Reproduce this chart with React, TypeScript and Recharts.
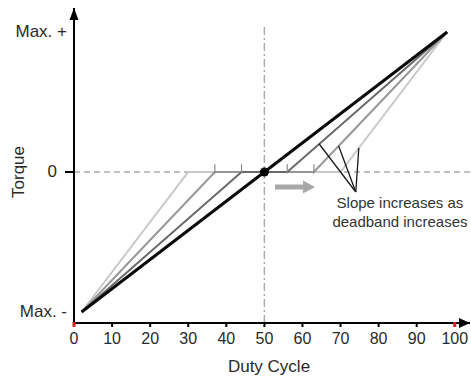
import { LineChart, Line, XAxis, YAxis, ReferenceLine, ReferenceDot } from 'recharts'

const FONT = '"Liberation Sans", Arial, Helvetica, sans-serif'

const X_MIN = 0
const X_MAX = 104
const Y_MIN = -1.0786
const Y_MAX = 1.1714

const xTicks = [0, 10, 20, 30, 40, 50, 60, 70, 80, 90, 100]
const yTicks = [-1, 0, 1]
const yTickLabels = { '-1': 'Max. -', '0': '0', '1': 'Max. +' }

// torque vs duty cycle, no deadband and three deadband widths
const noDeadband = [
  { x: 2, y: -1 },
  { x: 98, y: 1 },
]
const smallDeadband = [
  { x: 2, y: -1 },
  { x: 44, y: 0 },
  { x: 56, y: 0 },
  { x: 98, y: 1 },
]
const mediumDeadband = [
  { x: 2, y: -1 },
  { x: 37, y: 0 },
  { x: 63, y: 0 },
  { x: 98, y: 1 },
]
const largeDeadband = [
  { x: 2, y: -1 },
  { x: 30, y: 0 },
  { x: 70, y: 0 },
  { x: 98, y: 1 },
]

// little marks where the deadbands start / stop
const bandMarks = [37, 44, 56, 63]

// leader lines for the note: one apex, three targets on the slopes
const noteApex = { x: 74, y: -0.143 }
const noteTargets = [
  { x: 64.4, y: 0.2 },
  { x: 69.5, y: 0.186 },
  { x: 74.8, y: 0.171 },
]
const noteAnchor = { x: 85.6, y: -0.22 }
const noteLines = ['Slope increases as', 'deadband increases']

const shiftArrow = { from: 52.8, to: 63.3, y: -0.107 }

const YTick = (props) => {
  const { x, y, payload } = props
  const isZero = payload.value === 0
  return (
    <g>
      {isZero && <line x1={x - 9} x2={x} y1={y} y2={y} stroke="#000" strokeWidth={2} />}
      <text
        x={isZero ? x - 17 : x - 7}
        y={y}
        textAnchor="end"
        dominantBaseline="central"
        fontFamily={FONT}
        fontSize={17}
        fill="#2a2a2a"
      >
        {yTickLabels[String(payload.value)]}
      </text>
    </g>
  )
}

const ArrowRight = ({ cx, cy }) => (
  <polygon points={`${cx},${cy} ${cx - 11},${cy - 5} ${cx - 11},${cy + 5}`} fill="#000" />
)
const ArrowUp = ({ cx, cy }) => (
  <polygon points={`${cx},${cy} ${cx - 4.5},${cy + 12} ${cx + 4.5},${cy + 12}`} fill="#000" />
)
const RedMark = ({ cx, cy }) => <rect x={cx - 1.5} y={cy - 1} width={3} height={5} fill="#e02020" />
const Dot = ({ cx, cy }) => <circle cx={cx} cy={cy} r={4.5} fill="#000" />

const GrayArrow = ({ cx, cy }) => (
  <polygon
    points={`${cx},${cy - 2.5} ${cx + 28},${cy - 2.5} ${cx + 28},${cy - 6.5} ${cx + 40},${cy} ${cx + 28},${cy + 6.5} ${cx + 28},${cy + 2.5} ${cx},${cy + 2.5}`}
    fill="#a8a8a8"
  />
)

const NoteText = ({ cx, cy }) => (
  <text x={cx} y={cy} textAnchor="middle" fontFamily={FONT} fontSize={15} fill="#333">
    {noteLines.map((t, i) => (
      <tspan key={t} x={cx} dy={i === 0 ? 5 : 19}>
        {t}
      </tspan>
    ))}
  </text>
)

const App = () => {
  return (
    <div style={{ position: 'absolute', left: 0, top: 0, background: '#fff' }}>
      <LineChart width={471} height={377} margin={{ top: 8, right: 1, bottom: 0, left: 0 }}>
        <XAxis
          type="number"
          dataKey="x"
          domain={[X_MIN, X_MAX]}
          ticks={xTicks}
          allowDataOverflow
          height={54}
          axisLine={{ stroke: '#000', strokeWidth: 2 }}
          tickLine={{ stroke: '#000', strokeWidth: 2 }}
          tickSize={4}
          tickMargin={6}
          tick={{ fontFamily: FONT, fontSize: 16, fill: '#2a2a2a' }}
          label={{
            content: () => (
              <text x={269} y={366} textAnchor="middle" dominantBaseline="central" fontFamily={FONT} fontSize={17} fill="#2a2a2a">
                Duty Cycle
              </text>
            ),
          }}
        />
        <YAxis
          type="number"
          dataKey="y"
          domain={[Y_MIN, Y_MAX]}
          ticks={yTicks}
          allowDataOverflow
          width={74}
          axisLine={{ stroke: '#000', strokeWidth: 2 }}
          tickLine={false}
          tickSize={0}
          tickMargin={0}
          tick={<YTick />}
          label={{
            content: () => (
              <text
                x={18}
                y={172}
                transform="rotate(-90, 18, 172)"
                textAnchor="middle"
                dominantBaseline="central"
                fontFamily={FONT}
                fontSize={17}
                fill="#2a2a2a"
              >
                Torque
              </text>
            ),
          }}
        />

        <ReferenceLine
          segment={[{ x: X_MIN, y: 0 }, { x: X_MAX, y: 0 }]}
          stroke="#aaaaaa"
          strokeWidth={1.5}
          strokeDasharray="6 4"
          ifOverflow="visible"
        />
        <ReferenceLine
          segment={[{ x: 50, y: 1.036 }, { x: 50, y: Y_MIN }]}
          stroke="#aaaaaa"
          strokeWidth={1.5}
          strokeDasharray="8 3 2 3"
          ifOverflow="visible"
        />

        <Line data={largeDeadband} dataKey="y" type="linear" stroke="#c8c8c8" strokeWidth={2} dot={false} activeDot={false} isAnimationActive={false} />
        <Line data={mediumDeadband} dataKey="y" type="linear" stroke="#979797" strokeWidth={2} dot={false} activeDot={false} isAnimationActive={false} />
        <Line data={smallDeadband} dataKey="y" type="linear" stroke="#6a6a6a" strokeWidth={2} dot={false} activeDot={false} isAnimationActive={false} />
        <Line data={noDeadband} dataKey="y" type="linear" stroke="#0a0a0a" strokeWidth={3} dot={false} activeDot={false} isAnimationActive={false} />

        {bandMarks.map((m) => (
          <ReferenceLine
            key={m}
            segment={[{ x: m, y: -0.01 }, { x: m, y: 0.055 }]}
            stroke="#8a8a8a"
            strokeWidth={1.2}
            ifOverflow="visible"
          />
        ))}

        {noteTargets.map((p, i) => (
          <ReferenceLine
            key={i}
            segment={[noteApex, p]}
            stroke="#1a1a1a"
            strokeWidth={1.3}
            ifOverflow="visible"
          />
        ))}

        <ReferenceDot x={50} y={0} shape={Dot} ifOverflow="visible" />
        <ReferenceDot x={shiftArrow.from} y={shiftArrow.y} shape={GrayArrow} ifOverflow="visible" />
        <ReferenceDot x={noteAnchor.x} y={noteAnchor.y} shape={NoteText} ifOverflow="visible" />

        <ReferenceDot x={X_MAX} y={Y_MIN} shape={ArrowRight} ifOverflow="visible" />
        <ReferenceDot x={X_MIN} y={Y_MAX} shape={ArrowUp} ifOverflow="visible" />
        <ReferenceDot x={0} y={Y_MIN} shape={RedMark} ifOverflow="visible" />
        <ReferenceDot x={100} y={Y_MIN} shape={RedMark} ifOverflow="visible" />
      </LineChart>
    </div>
  )
}

export default App
